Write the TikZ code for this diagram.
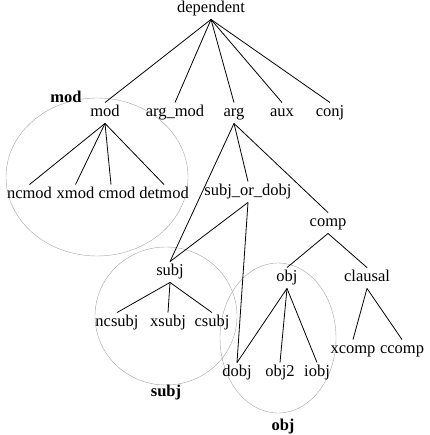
\documentclass[tikz,border=0pt]{standalone}
\usepackage{fontspec}
\setmainfont{Liberation Serif}
\usepackage{tikz}
\usetikzlibrary{shapes.geometric}
\tikzset{
  tree/cat/.style={inner xsep=0pt, inner ysep=3pt, text height=11pt, text depth=3.5pt, font=\fontsize{16.5}{19}\selectfont},
  tree/edge/.style={line width=0.8pt},
  tree/group/.style={draw=black!35, line width=0.4pt, ellipse, inner sep=0pt},
  tree/grouplabel/.style={font=\fontsize{16.5}{19}\selectfont\bfseries, inner sep=0pt}
}

\begin{document}
\begin{tikzpicture}[x=1pt, y=-1pt]
  \useasboundingbox (0,0) rectangle (429,435);

  \node[tree/group, minimum width=182pt, minimum height=158pt] (modgroup) at (97,177) {};
  \node[tree/group, minimum width=142pt, minimum height=138pt] (subjgroup) at (166,316) {};
  \node[tree/group, minimum width=116pt, minimum height=150pt] (objgroup) at (278,338) {};
  \node[tree/grouplabel] (modname) at (66,97) {mod};
  \node[tree/grouplabel] (subjname) at (166,393) {subj};
  \node[tree/grouplabel] (objname) at (283,427) {obj};

  \node[tree/cat] (dependent) at (211,9) {dependent};
  \node[tree/cat] (mod) at (105,113) {mod};
  \node[tree/cat] (argmod) at (175,113) {arg\_mod};
  \node[tree/cat] (arg) at (234,113) {arg};
  \node[tree/cat] (aux) at (282,113) {aux};
  \node[tree/cat] (conj) at (330,113) {conj};

  \node[tree/cat] (ncmod) at (29.5,195) {ncmod};
  \node[tree/cat] (xmod) at (75.5,195) {xmod};
  \node[tree/cat] (cmod) at (117,195) {cmod};
  \node[tree/cat] (detmod) at (164,195) {detmod};

  \node[tree/cat] (subjordobj) at (248,192) {subj\_or\_dobj};
  \node[tree/cat] (comp) at (328,223) {comp};
  \node[tree/cat] (subj) at (170,272) {subj};
  \node[tree/cat] (obj) at (287,278) {obj};
  \node[tree/cat] (clausal) at (367,278) {clausal};

  \node[tree/cat] (ncsubj) at (117,323) {ncsubj};
  \node[tree/cat] (xsubj) at (168,323) {xsubj};
  \node[tree/cat] (csubj) at (212,323) {csubj};
  \node[tree/cat] (dobj) at (237,373) {dobj};
  \node[tree/cat] (objtwo) at (280,373) {obj2};
  \node[tree/cat] (iobj) at (317,373) {iobj};
  \node[tree/cat] (xcomp) at (353,350) {xcomp};
  \node[tree/cat] (ccomp) at (402,350) {ccomp};

  \foreach \child in {mod,argmod,arg,aux,conj}
    \draw[tree/edge] (dependent.south) -- (\child.north);
  \foreach \child in {ncmod,xmod,detmod}
    \draw[tree/edge] (mod.south) -- (\child.north);
  \draw[tree/edge] (mod.south) -- ([xshift=-6pt]cmod.north);
  \foreach \child in {subj,subjordobj,comp}
    \draw[tree/edge] (arg.south) -- (\child.north);
  \foreach \child in {subj,dobj}
    \draw[tree/edge] (subjordobj.south) -- (\child.north);
  \foreach \child in {obj,clausal}
    \draw[tree/edge] (comp.south) -- (\child.north);
  \foreach \child in {ncsubj,xsubj,csubj}
    \draw[tree/edge] (subj.south) -- (\child.north);
  \foreach \child in {dobj,objtwo,iobj}
    \draw[tree/edge] (obj.south) -- (\child.north);
  \foreach \child in {xcomp,ccomp}
    \draw[tree/edge] (clausal.south) -- (\child.north);
\end{tikzpicture}
\end{document}
